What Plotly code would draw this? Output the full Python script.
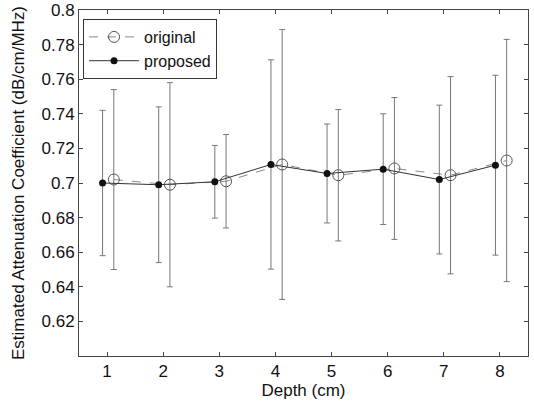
import plotly.graph_objects as go

depth = [1, 2, 3, 4, 5, 6, 7, 8]
original_mean = [0.702, 0.699, 0.701, 0.7107, 0.7045, 0.7084, 0.7045, 0.713]
original_err = [0.052, 0.059, 0.027, 0.078, 0.038, 0.041, 0.057, 0.070]
proposed_mean = [0.700, 0.699, 0.7007, 0.7107, 0.7055, 0.708, 0.702, 0.7103]
proposed_err = [0.042, 0.045, 0.021, 0.0605, 0.0286, 0.032, 0.043, 0.052]
y_ticks = [0.62, 0.64, 0.66, 0.68, 0.7, 0.72, 0.74, 0.76, 0.78, 0.8]
y_tick_labels = ["0.62", "0.64", "0.66", "0.68", "0.7", "0.72", "0.74", "0.76", "0.78", "0.8"]

x_prop = [d - 0.08 for d in depth]
x_orig = [d + 0.12 for d in depth]

fig = go.Figure()
fig.add_trace(go.Scatter(
    x=x_orig, y=original_mean, name="original", mode="lines+markers",
    line=dict(color="#888888", width=1, dash="dash"),
    marker=dict(symbol="circle-open", size=11, color="#555555", line=dict(width=1)),
    error_y=dict(type="data", array=original_err, visible=True, color="#777777", thickness=1, width=3),
))
fig.add_trace(go.Scatter(
    x=x_prop, y=proposed_mean, name="proposed", mode="lines+markers",
    line=dict(color="#333333", width=1),
    marker=dict(symbol="circle", size=7, color="#111111"),
    error_y=dict(type="data", array=proposed_err, visible=True, color="#777777", thickness=1, width=3),
))

fig.update_layout(
    width=534, height=403,
    margin=dict(l=79, r=6, t=10, b=47),
    paper_bgcolor="white", plot_bgcolor="white",
    font=dict(family="Liberation Sans, Arial", size=17, color="#111111"),
    showlegend=True,
    legend=dict(x=0.009, y=0.974, xanchor="left", yanchor="top",
                bgcolor="white", bordercolor="#333333", borderwidth=1,
                font=dict(size=16), itemwidth=50, tracegroupgap=0),
    xaxis=dict(range=[0.5, 8.5], tickvals=depth, ticktext=[str(d) for d in depth],
               automargin=False,
               showgrid=False, zeroline=False, showline=True, linecolor="#444444",
               linewidth=1, mirror="ticks", ticks="inside", ticklen=4, tickcolor="#444444",
               tickfont=dict(size=17),
               title=dict(text="Depth (cm)", standoff=0, font=dict(size=17))),
    yaxis=dict(range=[0.6, 0.8], tickvals=y_ticks, ticktext=y_tick_labels,
               automargin=False,
               showgrid=False, zeroline=False, showline=True, linecolor="#444444",
               linewidth=1, mirror="ticks", ticks="inside", ticklen=4, tickcolor="#444444",
               tickfont=dict(size=17),
               title=dict(text="Estimated Attenuation Coefficient (dB/cm/MHz)", standoff=12, font=dict(size=17))),
)

fig.write_html("out.html", config={"displayModeBar": False},
               post_script="document.body.style.margin='0';document.body.style.overflow='hidden';")
